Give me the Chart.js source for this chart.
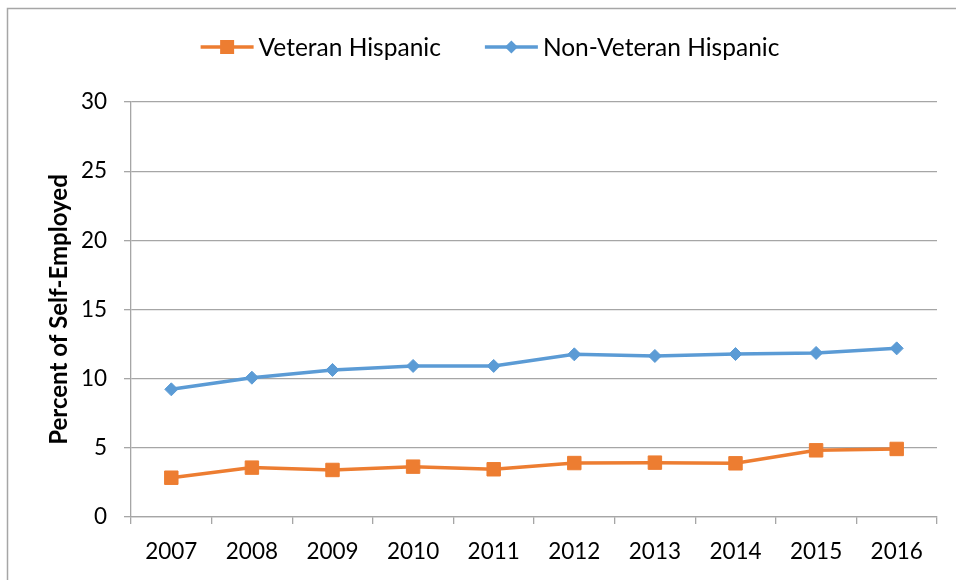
<!DOCTYPE html>
<html>
<head>
<meta charset="utf-8">
<script src="https://cdn.jsdelivr.net/npm/chart.js@4"></script>
<style>
  html, body { margin: 0; padding: 0; background: #fff; }
  #wrap { width: 956px; height: 580px; position: relative; }
</style>
</head>
<body>
<div id="wrap"><canvas id="c" width="956" height="580"></canvas></div>
<script>
// Share of self-employed, by year
const years = ['2007', '2008', '2009', '2010', '2011', '2012', '2013', '2014', '2015', '2016'];
const veteranHispanic = [2.84, 3.57, 3.40, 3.64, 3.45, 3.90, 3.93, 3.88, 4.82, 4.92];
const nonVeteranHispanic = [9.23, 10.07, 10.63, 10.92, 10.92, 11.76, 11.64, 11.78, 11.86, 12.19];
const yTicks = [0, 5, 10, 15, 20, 25, 30];

const FONT = 'Lato, "Open Sans", sans-serif';
const ORANGE = '#ED7D31';
const BLUE = '#5B9BD5';
const GRID = '#a6a6a6';

// Legend drawn as line + marker samples, centred above the plot
const lineLegend = {
  id: 'lineLegend',
  afterDraw(chart) {
    const ctx = chart.ctx;
    const items = chart.data.datasets;
    const sampleW = 53, textGap = 5, itemGap = 44, cy = 47;
    ctx.save();
    ctx.font = '24.5px ' + FONT;
    const widths = items.map(d => sampleW + textGap + ctx.measureText(d.label).width);
    const total = widths.reduce((a, b) => a + b, 0) + itemGap * (items.length - 1);
    let x = 490 - total / 2;
    items.forEach((d, i) => {
      ctx.strokeStyle = d.borderColor;
      ctx.lineWidth = 3.5;
      ctx.beginPath();
      ctx.moveTo(x, cy);
      ctx.lineTo(x + sampleW, cy);
      ctx.stroke();
      ctx.fillStyle = d.borderColor;
      const mx = x + sampleW / 2;
      ctx.beginPath();
      if (d.pointStyle === 'rect') {
        ctx.rect(mx - 7, cy - 7, 14, 14);
      } else {
        ctx.moveTo(mx - 6.5, cy);
        ctx.lineTo(mx, cy - 6.5);
        ctx.lineTo(mx + 6.5, cy);
        ctx.lineTo(mx, cy + 6.5);
        ctx.closePath();
      }
      ctx.fill();
      ctx.fillStyle = '#000';
      ctx.textBaseline = 'middle';
      ctx.textAlign = 'left';
      ctx.fillText(d.label, x + sampleW + textGap, cy + 1);
      x += widths[i] + itemGap;
    });
    ctx.restore();
  }
};

// Outer frame of the chart object
const frame = {
  id: 'frame',
  afterDraw(chart) {
    const ctx = chart.ctx;
    ctx.save();
    ctx.strokeStyle = '#a6a6a6';
    ctx.lineWidth = 1.5;
    ctx.beginPath();
    ctx.moveTo(7.5, chart.height);
    ctx.lineTo(7.5, 8.5);
    ctx.lineTo(chart.width, 8.5);
    ctx.stroke();
    ctx.restore();
  }
};

new Chart(document.getElementById('c'), {
  type: 'line',
  data: {
    labels: years,
    datasets: [
      {
        label: 'Veteran Hispanic',
        data: veteranHispanic,
        borderColor: ORANGE,
        backgroundColor: ORANGE,
        borderWidth: 3.5,
        pointStyle: 'rect',
        pointRadius: 9.5,
        pointBorderWidth: 1,
        tension: 0
      },
      {
        label: 'Non-Veteran Hispanic',
        data: nonVeteranHispanic,
        borderColor: BLUE,
        backgroundColor: BLUE,
        borderWidth: 3.5,
        pointStyle: 'rectRot',
        pointRadius: 6.5,
        pointBorderWidth: 1,
        tension: 0
      }
    ]
  },
  options: {
    responsive: false,
    animation: false,
    layout: { padding: { top: 102, right: 19, left: 0, bottom: 0 } },
    plugins: {
      legend: { display: false },
      tooltip: { enabled: false }
    },
    scales: {
      x: {
        offset: true,
        grid: {
          offset: true,
          drawOnChartArea: false,
          drawTicks: true,
          tickLength: 7,
          color: GRID,
          lineWidth: 1.3
        },
        border: { color: GRID, width: 1.3 },
        ticks: { color: '#000', font: { family: FONT, size: 22.5 }, padding: 14, maxRotation: 0 },
        afterFit(scale) { scale.height = 63; }
      },
      y: {
        min: 0,
        max: 30,
        afterBuildTicks(scale) { scale.ticks = yTicks.map(v => ({ value: v })); },
        grid: { color: GRID, lineWidth: 1.3, tickLength: 7 },
        border: { color: GRID, width: 1.3 },
        ticks: { color: '#000', font: { family: FONT, size: 22.5 }, padding: 17 },
        title: {
          display: true,
          text: 'Percent of Self-Employed',
          color: '#000',
          font: { family: FONT, size: 24, weight: 'bold' },
          padding: { top: 45, bottom: 0 }
        },
        afterFit(scale) { scale.width = 131; }
      }
    }
  },
  plugins: [lineLegend, frame]
});
</script>
</body>
</html>
